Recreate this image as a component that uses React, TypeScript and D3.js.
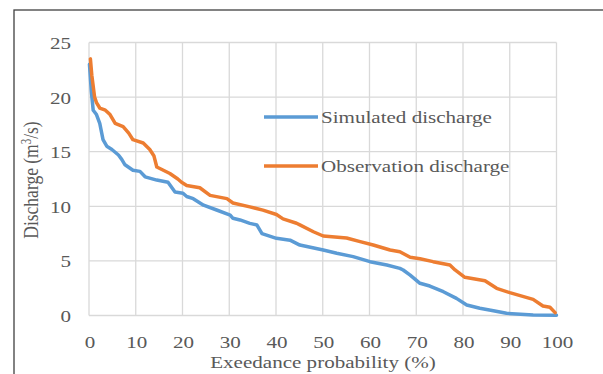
import React, { useEffect, useRef } from 'react';
import * as d3 from 'd3';

// exceedance probability (%) and discharge (m3/s)
const obsP = [0.3, 0.6, 1.2, 1.6, 2.3, 3.5, 4.5, 5.6, 7.3, 8.5, 9.4, 11.6, 13.0, 13.9, 14.5, 17.3, 19.0, 19.8, 20.9, 23.7, 25.9, 29.5, 30.8, 34.4, 37.2, 40.1, 41.5, 44.4, 45.1, 48.0, 50.1, 55.1, 58.0, 60.8, 64.4, 66.5, 68.7, 70.8, 73.6, 77.2, 78.3, 80.4, 84.7, 87.2, 90.0, 95.0, 97.1, 98.6, 99.7];
const obsQ = [23.5, 22.0, 20.0, 19.5, 19.0, 18.8, 18.4, 17.6, 17.3, 16.7, 16.1, 15.8, 15.2, 14.6, 13.6, 13.0, 12.5, 12.2, 11.9, 11.7, 11.0, 10.7, 10.3, 9.95, 9.65, 9.25, 8.85, 8.45, 8.3, 7.67, 7.28, 7.1, 6.76, 6.46, 6.0, 5.84, 5.33, 5.2, 4.93, 4.62, 4.17, 3.5, 3.19, 2.49, 2.09, 1.48, 0.87, 0.75, 0.26];

const simP = [0.1, 0.5, 0.9, 1.6, 2.3, 3.0, 3.8, 4.9, 6.3, 7.0, 7.7, 9.4, 10.9, 12.0, 14.5, 16.9, 18.4, 20.1, 20.9, 22.3, 24.5, 27.3, 30.2, 30.8, 32.3, 34.4, 35.9, 37.0, 40.1, 43.0, 45.1, 50.1, 53.0, 56.5, 60.1, 63.7, 66.5, 67.2, 68.7, 70.8, 72.9, 75.8, 78.6, 80.8, 83.6, 86.5, 89.3, 95.0, 100];
const simQ = [23.0, 20.5, 18.8, 18.4, 17.6, 16.1, 15.5, 15.2, 14.7, 14.3, 13.8, 13.3, 13.2, 12.7, 12.4, 12.2, 11.3, 11.2, 10.9, 10.7, 10.1, 9.66, 9.2, 8.9, 8.75, 8.44, 8.29, 7.5, 7.07, 6.9, 6.45, 6.0, 5.7, 5.39, 4.93, 4.62, 4.32, 4.17, 3.7, 2.95, 2.7, 2.18, 1.57, 0.96, 0.66, 0.44, 0.2, 0.05, 0.02];

const xTicks = [0, 10, 20, 30, 40, 50, 60, 70, 80, 90, 100];
const yTicks = [0, 5, 10, 15, 20, 25];

const seriesNames = ['Simulated discharge', 'Observation discharge'];
const seriesColors = ['#5B9BD5', '#ED7D31'];

const App = () => {
  const ref = useRef<SVGSVGElement>(null);

  useEffect(() => {
    const svg = d3.select(ref.current);
    svg.selectAll('*').remove();

    const font = "'Liberation Serif', 'Times New Roman', serif";
    const textColor = '#595959';
    const fs = 17;
    // the source picture is stretched sideways, text included
    const sx = 1.24;

    const x = d3.scaleLinear().domain([0, 100]).range([89, 556.5]);
    const y = d3.scaleLinear().domain([0, 25]).range([315.5, 42.5]);

    const label = (px: number, py: number, txt: string | number, anchor: string, size = fs) =>
      svg.append('text')
        .attr('transform', `translate(${px},${py}) scale(${sx},1)`)
        .attr('text-anchor', anchor)
        .attr('font-family', font).attr('font-size', size)
        .attr('fill', textColor)
        .text(txt);

    // outer frame
    svg.append('rect')
      .attr('x', 14).attr('y', 10)
      .attr('width', 620).attr('height', 400)
      .attr('fill', 'none')
      .attr('stroke', '#404040')
      .attr('stroke-width', 1.3);

    // grid
    const grid = svg.append('g').attr('stroke', '#D9D9D9').attr('stroke-width', 1.3);
    xTicks.forEach(t => {
      grid.append('line')
        .attr('x1', x(t)).attr('x2', x(t))
        .attr('y1', y(25)).attr('y2', y(0));
    });
    yTicks.forEach(t => {
      grid.append('line')
        .attr('x1', x(0)).attr('x2', x(100))
        .attr('y1', y(t)).attr('y2', y(t));
    });

    // tick labels
    yTicks.forEach(t => label(71, y(t) + 6.5, t, 'end'));
    xTicks.forEach(t => label(x(t) + 1, 348, t, 'middle'));

    // axis titles
    label(323, 368, 'Exeedance probability (%)', 'middle');

    const yt = svg.append('text')
      .attr('transform', `translate(38,180) scale(${sx},1) rotate(-90)`)
      .attr('text-anchor', 'middle')
      .attr('font-family', font).attr('font-size', 17.5)
      .attr('fill', textColor);
    yt.append('tspan').text('Discharge (m');
    yt.append('tspan').attr('font-size', 11).attr('dy', -6).text('3');
    yt.append('tspan').attr('dy', 6).text('/s)');

    // lines
    const line = d3.line<[number, number]>()
      .x(d => x(d[0]))
      .y(d => y(d[1]));

    const sim: [number, number][] = simP.map((p, i) => [p, simQ[i]]);
    const obs: [number, number][] = obsP.map((p, i) => [p, obsQ[i]]);

    [sim, obs].forEach((data, i) => {
      svg.append('path')
        .datum(data)
        .attr('d', line)
        .attr('fill', 'none')
        .attr('stroke', seriesColors[i])
        .attr('stroke-width', 3.5)
        .attr('stroke-linejoin', 'round')
        .attr('stroke-linecap', 'round');
    });

    // legend
    const legendY = [117, 166];
    seriesNames.forEach((name, i) => {
      svg.append('line')
        .attr('x1', 264).attr('x2', 318)
        .attr('y1', legendY[i]).attr('y2', legendY[i])
        .attr('stroke', seriesColors[i])
        .attr('stroke-width', 3.5);
      label(321, legendY[i] + 6, name, 'start');
    });
  }, []);

  return (
    <svg
      ref={ref}
      width={603}
      height={374}
      style={{ position: 'absolute', left: 0, top: 0, background: '#fff' }}
    />
  );
};

export default App;
